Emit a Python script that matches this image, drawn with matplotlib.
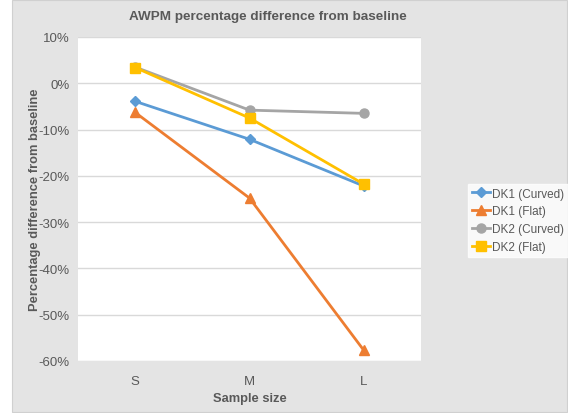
import matplotlib
matplotlib.use("Agg")
import matplotlib.pyplot as plt
from matplotlib.patches import Rectangle
from matplotlib.ticker import FuncFormatter

categories = ["S", "M", "L"]
series_names = ["DK1 (Curved)", "DK1 (Flat)", "DK2 (Curved)", "DK2 (Flat)"]
dk1_curved = [-3.9, -12.1, -22.2]
dk1_flat = [-6.3, -24.8, -57.7]
dk2_curved = [3.5, -5.8, -6.5]
dk2_flat = [3.4, -7.5, -21.8]
y_ticks = [10, 0, -10, -20, -30, -40, -50, -60]

colors = ["#5B9BD5", "#ED7D31", "#A5A5A5", "#FFC000"]
markers = ["D", "^", "o", "s"]
sizes = [5.5, 7, 6.5, 7]

plt.rcParams['font.family'] = ['Liberation Sans', 'DejaVu Sans']
txt = "#595959"

fig = plt.figure(figsize=(5.68, 4.14), dpi=100)
fig.patch.set_facecolor("white")
bg = Rectangle((12/568, 1/414), 555/568, 412/414, transform=fig.transFigure,
               facecolor="#e4e4e4", edgecolor="#d0d0d0", lw=0.8, zorder=-10)
fig.patches.append(bg)

ax = fig.add_axes([78/568, 1-362/414, 343/568, 324/414])
ax.set_zorder(5)
ax.set_facecolor("white")
x = list(range(len(categories)))
for vals, name, c, m, s in zip([dk1_curved, dk1_flat, dk2_curved, dk2_flat], series_names, colors, markers, sizes):
    ax.plot(x, vals, color=c, lw=2, marker=m, markersize=s, label=name, zorder=3)

ax.set_xlim(-0.5, 2.5)
ax.set_ylim(-60, 10)
ax.set_yticks(y_ticks)
ax.yaxis.set_major_formatter(FuncFormatter(lambda v, p: f"{int(v)}%"))
ax.set_xticks(x)
ax.set_xticklabels(categories)
ax.grid(axis="y", color="#d9d9d9", lw=1)
ax.set_axisbelow(True)
for sp in ax.spines.values():
    sp.set_visible(False)
ax.tick_params(length=0, colors=txt, labelsize=9.5)
ax.tick_params(axis="y", pad=6)
ax.tick_params(axis="x", pad=10)

ax.set_xlabel("Sample size", fontsize=9.3, fontweight="bold", color=txt, labelpad=4)
ax.set_ylabel("Percentage difference from baseline", fontsize=9.3, fontweight="bold", color=txt, labelpad=-2)
fig.text(268/568, 1-17/414, "AWPM percentage difference from baseline", ha="center", va="center",
         fontsize=9.7, fontweight="bold", color=txt)

leg = ax.legend(loc="upper left", bbox_to_anchor=(468/568, 1-185/414), bbox_transform=fig.transFigure,
                frameon=True, fancybox=False, fontsize=8.5, handlelength=1.6, handletextpad=0.15,
                borderpad=0.3, labelspacing=0.5, borderaxespad=0)
leg.get_frame().set_facecolor("white")
leg.get_frame().set_edgecolor("white")
for t in leg.get_texts():
    t.set_color(txt)

fig.savefig("out.png", dpi=100, facecolor=fig.get_facecolor())
